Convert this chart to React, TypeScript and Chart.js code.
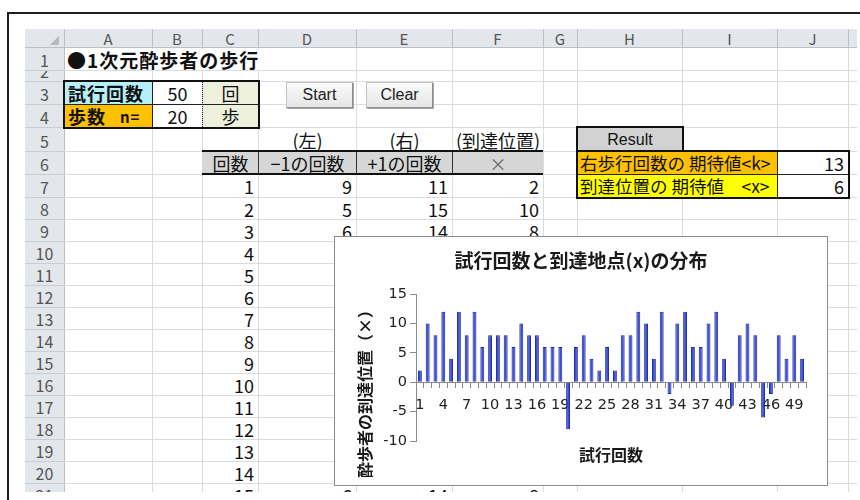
import React, { useEffect, useRef } from 'react';
import { Chart, registerables } from 'chart.js';

Chart.register(...registerables);

// ---------------- data ----------------
const trialLabels = [
  '1', '2', '3', '4', '5', '6', '7', '8', '9', '10',
  '11', '12', '13', '14', '15', '16', '17', '18', '19', '20',
  '21', '22', '23', '24', '25', '26', '27', '28', '29', '30',
  '31', '32', '33', '34', '35', '36', '37', '38', '39', '40',
  '41', '42', '43', '44', '45', '46', '47', '48', '49', '50',
];
// arrival position x of each trial
const arrivalPositions = [
  2, 10, 8, 12, 4, 12, 8, 12, 6, 8,
  8, 8, 6, 10, 8, 8, 6, 6, 6, -8,
  6, 8, 4, 2, 6, 2, 8, 8, 12, 10,
  4, 12, -2, 10, 12, 6, 6, 10, 12, 4,
  -4, 8, 10, 8, -6, -2, 8, 4, 8, 4,
];
const trialCount = 50;
const stepCount = 20;
const expectedRightSteps = 13;
const expectedPosition = 6;
const yTickValues = [15, 10, 5, 0, -5, -10];

const chartTitle = '試行回数と到達地点(x)の分布';
const xAxisTitle = '試行回数';
const yAxisTitle = '酔歩者の到達位置（×）';

const columnLetters = ['A', 'B', 'C', 'D', 'E', 'F', 'G', 'H', 'I', 'J'];
const rowNumbers = ['1', '2', '3', '4', '5', '6', '7', '8', '9', '10', '11', '12', '13', '14', '15', '16', '17', '18', '19', '20', '21'];

// ---------------- sheet layout ----------------
const COL_X = [25, 64, 152, 202, 258, 356, 452, 543, 577, 682, 777, 848, 900];
const ROW_Y = [48, 70, 81, 104, 127, 151, 174, 197, 219, 241, 263, 285, 307, 329, 351, 373, 395, 417, 439, 461, 483, 505];
const HEAD_TOP = 29;
const SHEET_RIGHT = 857;
const SHEET_BOTTOM = 492;
const FONT = '"Noto Sans CJK JP", "Noto Sans", sans-serif';
const TICK_FONT = '"DejaVu Sans", sans-serif';
const GRID = '#d9dcdf';
const HEAD_BG = '#e3e6ea';
const HEAD_LINE = '#b8bfc7';

type Box = { left: number; top: number; width: number; height: number };

function box(c0: number, c1: number, r0: number, r1: number): Box {
  return {
    left: COL_X[c0],
    top: ROW_Y[r0 - 1],
    width: COL_X[c1 + 1] - COL_X[c0],
    height: ROW_Y[r1] - ROW_Y[r0 - 1],
  };
}

function Cell(props: { b: Box; align?: string; bg?: string; style?: React.CSSProperties; children?: React.ReactNode }) {
  const { b, align = 'left', bg, style, children } = props;
  return (
    <div
      style={{
        position: 'absolute',
        left: b.left + 1,
        top: b.top + 1,
        width: b.width - 1,
        height: b.height - 1,
        background: bg,
        display: 'flex',
        alignItems: 'center',
        justifyContent: align === 'left' ? 'flex-start' : align === 'right' ? 'flex-end' : 'center',
        padding: '0 4px',
        boxSizing: 'border-box',
        whiteSpace: 'nowrap',
        fontFamily: FONT,
        fontSize: 17,
        color: '#111',
        lineHeight: 1,
        ...style,
      }}
    >
      {children}
    </div>
  );
}

function Line(props: { x: number; y: number; w: number; h: number; color: string; style?: React.CSSProperties }) {
  const { x, y, w, h, color, style } = props;
  return <div style={{ position: 'absolute', left: x, top: y, width: w, height: h, background: color, ...style }} />;
}

function Frame(props: { x0: number; y0: number; x1: number; y1: number }) {
  const { x0, y0, x1, y1 } = props;
  return (
    <div
      style={{
        position: 'absolute',
        left: x0 - 1,
        top: y0 - 1,
        width: x1 - x0 + 3,
        height: y1 - y0 + 3,
        border: '2px solid #111',
        boxSizing: 'border-box',
      }}
    />
  );
}

function Button(props: { x: number; label: string }) {
  return (
    <div
      style={{
        position: 'absolute',
        left: props.x,
        top: 82,
        width: 67,
        height: 26,
        boxSizing: 'border-box',
        background: 'linear-gradient(#fafafa, #e6e6e6)',
        border: '1px solid #c4c4c4',
        borderRightColor: '#8c8c8c',
        borderBottomColor: '#8c8c8c',
        boxShadow: '1px 1px 0 #a8a8a8',
        display: 'flex',
        alignItems: 'center',
        justifyContent: 'center',
        fontFamily: '"Liberation Sans", sans-serif',
        fontSize: 16,
        color: '#222',
      }}
    >
      {props.label}
    </div>
  );
}

// ---------------- chart ----------------
const walkTitles = {
  id: 'walkTitles',
  afterDraw(chart: any) {
    const { ctx, chartArea } = chart;
    ctx.save();
    ctx.fillStyle = '#1a1a1a';
    ctx.textAlign = 'center';
    ctx.textBaseline = 'middle';
    ctx.font = `bold 19px ${FONT}`;
    ctx.fillText(chartTitle, chart.width / 2, 24);
    ctx.font = `bold 16px ${FONT}`;
    ctx.fillText(xAxisTitle, (chartArea.left + chartArea.right) / 2, chartArea.bottom + 14);
    ctx.translate(30, chartArea.bottom - 51);
    ctx.rotate(-Math.PI / 2);
    ctx.font = `bold 16px ${FONT}`;
    ctx.fillText(yAxisTitle, 0, 0);
    ctx.restore();
  },
};

function WalkChart() {
  const ref = useRef<HTMLCanvasElement>(null);
  useEffect(() => {
    const chart = new Chart(ref.current as HTMLCanvasElement, {
      type: 'bar',
      data: {
        labels: trialLabels,
        datasets: [
          {
            data: arrivalPositions,
            backgroundColor: '#3c4fd9',
            borderColor: '#1b2696',
            borderWidth: 1,
            barPercentage: 0.5,
            categoryPercentage: 1,
          },
        ],
      },
      options: {
        animation: false,
        responsive: false,
        maintainAspectRatio: false,
        layout: { padding: { left: 0, top: 57, right: 21, bottom: 44 } },
        plugins: {
          legend: { display: false },
          tooltip: { enabled: false },
          title: { display: false },
        },
        scales: {
          x: {
            position: { y: 0 } as any,
            ticks: {
              autoSkip: false,
              maxRotation: 0,
              minRotation: 0,
              padding: 9,
              color: '#222',
              font: { family: TICK_FONT, size: 14.5 },
              callback: (_v: any, i: number) => (i % 3 === 0 ? trialLabels[i] : ''),
            },
            grid: { drawOnChartArea: false, drawTicks: true, tickLength: 5, color: '#8a8a8a', offset: true },
            border: { color: '#8a8a8a' },
          },
          y: {
            min: yTickValues[yTickValues.length - 1],
            max: yTickValues[0],
            afterBuildTicks: (s: any) => {
              s.ticks = yTickValues.map((v) => ({ value: v }));
            },
            afterFit: (s: any) => {
              s.width = 81;
            },
            ticks: {
              padding: 3,
              color: '#222',
              font: { family: TICK_FONT, size: 14.5 },
            },
            grid: { drawOnChartArea: false, drawTicks: true, tickLength: 6, color: '#8a8a8a' },
            border: { color: '#8a8a8a' },
          },
        },
      },
      plugins: [walkTitles],
    });
    return () => chart.destroy();
  }, []);
  return <canvas ref={ref} width={492} height={248} style={{ display: 'block', width: 492, height: 248 }} />;
}

// ---------------- sheet ----------------
export default function App() {
  const tableRows = trialLabels.slice(0, rowNumbers.length - 6).map((label, i) => {
    const x = arrivalPositions[i];
    return { label, left: (stepCount - x) / 2, right: (stepCount + x) / 2, x };
  });

  return (
    <div style={{ position: 'fixed', left: 0, top: 0, width: 860, height: 500, background: '#fff', overflow: 'hidden' }}>
      {/* outer frame */}
      <Line x={8} y={12} w={860} h={2} color="#1e1e1e" />
      <Line x={7} y={12} w={2} h={500} color="#1e1e1e" />

      <div style={{ position: 'absolute', left: 0, top: 0, width: SHEET_RIGHT, height: SHEET_BOTTOM, overflow: 'hidden' }}>
        {/* headers */}
        <Line x={25} y={HEAD_TOP} w={SHEET_RIGHT - 25} h={ROW_Y[0] - HEAD_TOP} color={HEAD_BG} />
        <Line x={25} y={ROW_Y[0]} w={COL_X[1] - 25} h={SHEET_BOTTOM - ROW_Y[0]} color={HEAD_BG} />
        <div
          style={{
            position: 'absolute',
            left: 50,
            top: 36,
            width: 0,
            height: 0,
            borderLeft: '9px solid transparent',
            borderBottom: '9px solid #b3bac2',
          }}
        />

        {/* grid lines */}
        {COL_X.slice(1, 12).map((x, i) => (
          <React.Fragment key={'v' + i}>
            <Line x={x} y={HEAD_TOP} w={1} h={ROW_Y[0] - HEAD_TOP} color={HEAD_LINE} />
            <Line x={x} y={ROW_Y[0]} w={1} h={SHEET_BOTTOM - ROW_Y[0]} color={i === 0 ? HEAD_LINE : GRID} />
          </React.Fragment>
        ))}
        <Line x={25} y={ROW_Y[0] - 1} w={SHEET_RIGHT - 25} h={1} color={HEAD_LINE} />
        {ROW_Y.slice(1).map((y, i) => (
          <React.Fragment key={'h' + i}>
            <Line x={25} y={y} w={COL_X[1] - 25} h={1} color="#c9ced4" />
            <Line x={COL_X[1]} y={y} w={SHEET_RIGHT - COL_X[1]} h={1} color={GRID} />
          </React.Fragment>
        ))}

        {/* column letters */}
        {columnLetters.map((c, i) => (
          <div
            key={c}
            style={{
              position: 'absolute',
              left: COL_X[i + 1],
              top: HEAD_TOP,
              width: COL_X[i + 2] - COL_X[i + 1],
              height: ROW_Y[0] - HEAD_TOP,
              display: 'flex',
              alignItems: 'center',
              justifyContent: 'center',
              fontFamily: FONT,
              fontSize: 15,
              color: '#555',
              lineHeight: 1,
            }}
          >
            {c}
          </div>
        ))}

        {/* row numbers */}
        {rowNumbers.map((n, i) => (
          <div
            key={n}
            style={{
              position: 'absolute',
              left: 25,
              top: ROW_Y[i] + 1,
              width: COL_X[1] - 25,
              height: ROW_Y[i + 1] - ROW_Y[i] - 1,
              overflow: 'hidden',
            }}
          >
            <div
              style={{
                position: 'absolute',
                left: 0,
                right: 0,
                bottom: 0,
                height: 21,
                display: 'flex',
                alignItems: 'center',
                justifyContent: 'center',
                fontFamily: FONT,
                fontSize: 16,
                color: '#555',
                lineHeight: 1,
              }}
            >
              {n}
            </div>
          </div>
        ))}

        {/* title row */}
        <Cell b={box(1, 4, 1, 1)} bg="#fff" style={{ fontSize: 19, fontWeight: 700, letterSpacing: 1, paddingLeft: 2 }}>
          ●1次元酔歩者の歩行
        </Cell>

        {/* inputs */}
        <Cell b={box(1, 1, 3, 3)} bg="#b6eff8" style={{ fontWeight: 700, fontSize: 18, paddingLeft: 3, letterSpacing: 1 }}>
          試行回数
        </Cell>
        <Cell b={box(2, 2, 3, 3)} bg="#fff" align="center" style={{ fontSize: 18 }}>
          {trialCount}
        </Cell>
        <Cell b={box(3, 3, 3, 3)} bg="#edf0dd" align="center" style={{ fontSize: 18 }}>
          回
        </Cell>
        <Cell b={box(1, 1, 4, 4)} bg="#ffc000" style={{ fontWeight: 700, fontSize: 18, paddingLeft: 3, letterSpacing: 1 }}>
          歩数<span style={{ fontSize: 15, marginLeft: 14 }}>n=</span>
        </Cell>
        <Cell b={box(2, 2, 4, 4)} bg="#fff" align="center" style={{ fontSize: 18 }}>
          {stepCount}
        </Cell>
        <Cell b={box(3, 3, 4, 4)} bg="#edf0dd" align="center" style={{ fontSize: 18 }}>
          歩
        </Cell>
        <Line x={COL_X[1]} y={ROW_Y[3]} w={COL_X[4] - COL_X[1]} h={1} color="#222" />
        <Line x={COL_X[2]} y={ROW_Y[2]} w={1} h={ROW_Y[4] - ROW_Y[2]} color="#222" />
        <div
          style={{
            position: 'absolute',
            left: COL_X[3],
            top: ROW_Y[2],
            width: 0,
            height: ROW_Y[4] - ROW_Y[2],
            borderLeft: '1px dotted #222',
          }}
        />
        <Frame x0={COL_X[1]} y0={ROW_Y[2]} x1={COL_X[4]} y1={ROW_Y[4]} />

        <Button x={286} label="Start" />
        <Button x={366} label="Clear" />

        {/* table captions */}
        <Cell b={box(4, 4, 5, 5)} align="center" style={{ fontSize: 18 }}>
          (左)
        </Cell>
        <Cell b={box(5, 5, 5, 5)} align="center" style={{ fontSize: 18 }}>
          (右)
        </Cell>
        <Cell b={box(6, 6, 5, 5)} align="center" style={{ fontSize: 18, padding: 0 }}>
          (到達位置)
        </Cell>

        {/* table header */}
        <Cell b={box(3, 3, 6, 6)} bg="#d6d6d6" align="center" style={{ fontSize: 18 }}>
          回数
        </Cell>
        <Cell b={box(4, 4, 6, 6)} bg="#d6d6d6" align="center" style={{ fontSize: 18 }}>
          −1の回数
        </Cell>
        <Cell b={box(5, 5, 6, 6)} bg="#d6d6d6" align="center" style={{ fontSize: 18 }}>
          +1の回数
        </Cell>
        <Cell b={box(6, 6, 6, 6)} bg="#d6d6d6" align="center" style={{ fontSize: 17, color: '#666' }}>
          ×
        </Cell>
        {[4, 5, 6].map((c) => (
          <Line key={'th' + c} x={COL_X[c]} y={ROW_Y[5]} w={1} h={ROW_Y[6] - ROW_Y[5]} color="#333" />
        ))}
        <Line x={COL_X[3]} y={ROW_Y[5] - 1} w={COL_X[7] - COL_X[3]} h={2} color="#111" />
        <Line x={COL_X[3]} y={ROW_Y[6] - 1} w={COL_X[7] - COL_X[3]} h={2} color="#111" />

        {/* table body */}
        {tableRows.map((row, i) => (
          <React.Fragment key={'r' + i}>
            <Cell b={box(3, 3, 7 + i, 7 + i)} align="right" style={{ fontSize: 18 }}>
              {row.label}
            </Cell>
            <Cell b={box(4, 4, 7 + i, 7 + i)} align="right" style={{ fontSize: 18 }}>
              {row.left}
            </Cell>
            <Cell b={box(5, 5, 7 + i, 7 + i)} align="right" style={{ fontSize: 18 }}>
              {row.right}
            </Cell>
            <Cell b={box(6, 6, 7 + i, 7 + i)} align="right" style={{ fontSize: 18 }}>
              {row.x}
            </Cell>
          </React.Fragment>
        ))}

        {/* result block */}
        <Cell b={box(8, 8, 5, 5)} bg="#d2d2d2" align="center" style={{ fontFamily: '"Liberation Sans", sans-serif', fontSize: 16 }}>
          Result
        </Cell>
        <Frame x0={COL_X[8]} y0={ROW_Y[4]} x1={COL_X[9]} y1={ROW_Y[5]} />
        <Cell b={box(8, 9, 6, 6)} bg="#ffc000" style={{ fontSize: 17.5, paddingLeft: 2 }}>
          右歩行回数の 期待値&lt;k&gt;
        </Cell>
        <Cell b={box(10, 10, 6, 6)} bg="#fff" align="right" style={{ fontSize: 18 }}>
          {expectedRightSteps}
        </Cell>
        <Cell b={box(8, 9, 7, 7)} bg="#ffff00" style={{ fontSize: 17.5, paddingLeft: 2 }}>
          到達位置の 期待値　&lt;x&gt;
        </Cell>
        <Cell b={box(10, 10, 7, 7)} bg="#fff" align="right" style={{ fontSize: 18 }}>
          {expectedPosition}
        </Cell>
        <Line x={COL_X[8]} y={ROW_Y[6]} w={COL_X[11] - COL_X[8]} h={1} color="#222" />
        <Line x={COL_X[10]} y={ROW_Y[5]} w={1} h={ROW_Y[7] - ROW_Y[5]} color="#222" />
        <Frame x0={COL_X[8]} y0={ROW_Y[5]} x1={COL_X[11]} y1={ROW_Y[7]} />

        {/* embedded chart */}
        <div
          style={{
            position: 'absolute',
            left: 334,
            top: 236,
            width: 494,
            height: 250,
            boxSizing: 'border-box',
            border: '1px solid #8c8c8c',
            background: '#fff',
          }}
        >
          <WalkChart />
        </div>
      </div>
    </div>
  );
}
